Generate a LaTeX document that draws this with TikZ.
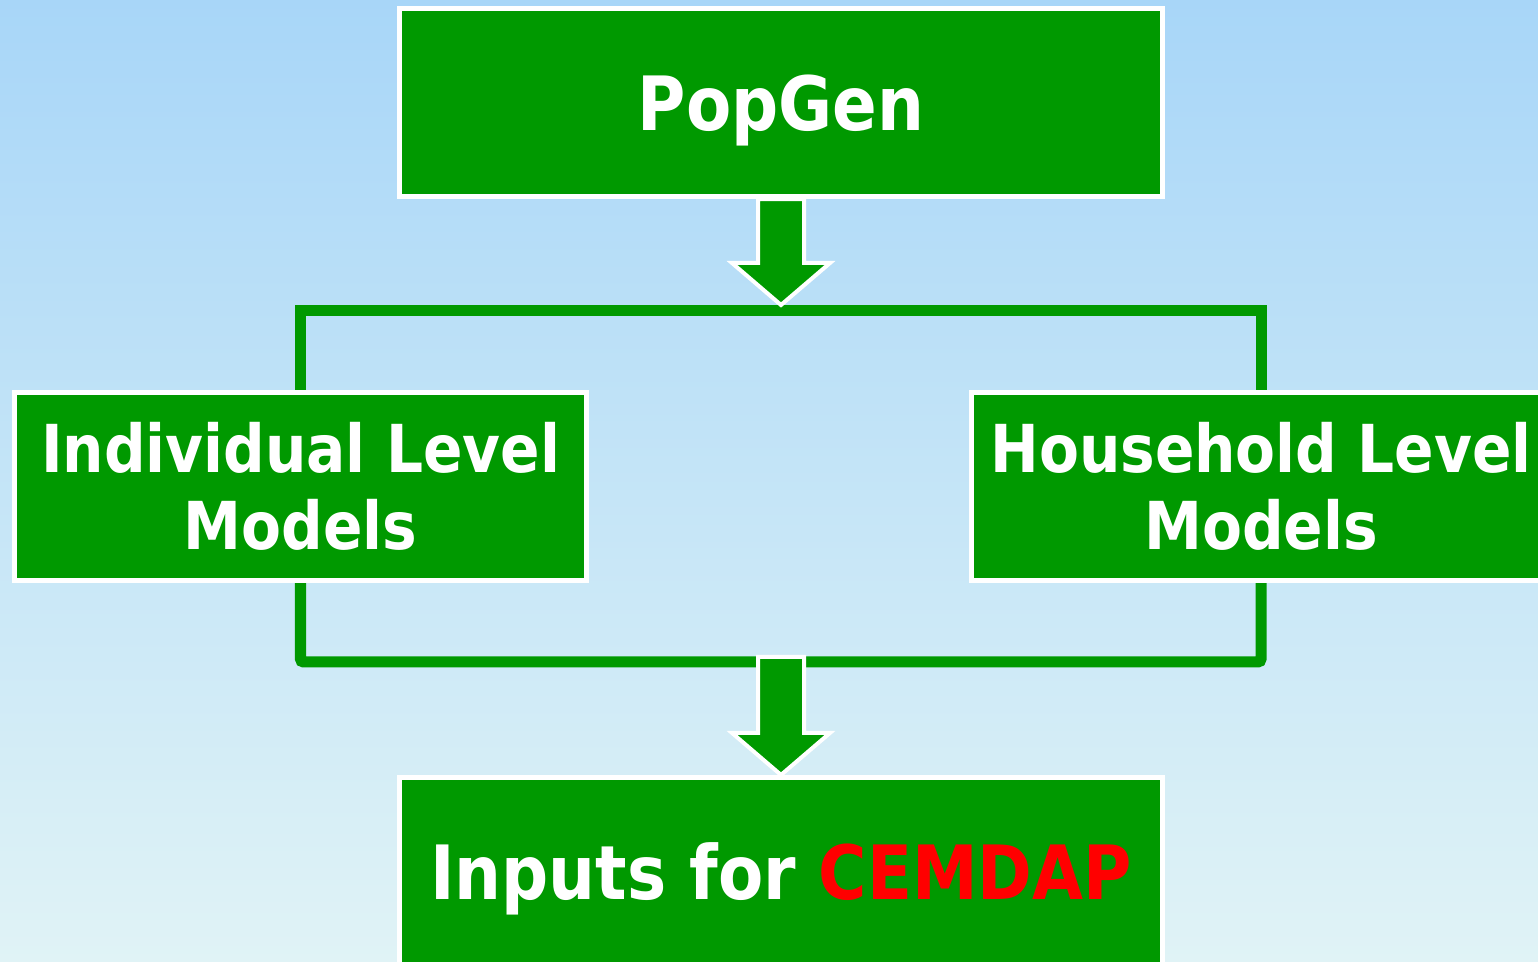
\documentclass[tikz,border=0pt]{standalone}
\usepackage{fontspec}
\newfontfamily\boxfont[FakeStretch=0.88]{DejaVu Sans}
\usetikzlibrary{calc}

\definecolor{boxgreen}{HTML}{009900}
\definecolor{skytop}{HTML}{A8D6F8}
\definecolor{skybottom}{HTML}{E0F3F6}

\tikzset{
  box/.style={rectangle, fill=boxgreen, draw=white, line width=0.05cm,
    inner sep=0, outer sep=0.025cm, minimum height=1.88cm, text=white, align=center},
  bigtext/.style={font=\boxfont\bfseries\fontsize{21.3}{24}\selectfont, text depth=0pt},
  midtext/.style={font=\boxfont\bfseries\fontsize{18.8}{21.9}\selectfont},
  link/.style={draw=boxgreen, line width=0.11cm},
}

% fat block arrow from #1 down to tip #2
\newcommand{\fatarrow}[2]{%
  \filldraw[fill=boxgreen, draw=white, line width=0.04cm, line join=miter]
    ($(#1)+(-23,0)$) -- ($(#2)+(-23,-42)$) -- ($(#2)+(-49,-42)$) -- (#2)
    -- ($(#2)+(49,-42)$) -- ($(#2)+(23,-42)$) -- ($(#1)+(23,0)$) -- cycle;}

\begin{document}
\begin{tikzpicture}[x=0.01cm,y=-0.01cm]

\useasboundingbox (0,0) rectangle (1538,962);
\clip (0,0) rectangle (1538,962);
\fill[top color=skytop, bottom color=skybottom] (0,0) rectangle (1538,962);

\coordinate (topjoin) at (781,311);
\coordinate (botjoin) at (781,662);
\coordinate (tipA) at (781,305);

\node[box, bigtext, minimum width=7.63cm] (popgen) at (781,102.5) {PopGen};
\node[box, midtext, minimum width=5.72cm] (indiv) at (300.5,486.5) {Individual Level\\Models};
\node[box, midtext, minimum width=5.78cm] (house) at (1261,486.5) {Household Level\\Models};
\node[box, bigtext, minimum width=7.63cm] (inputs) at (781,871.5)
  {Inputs for \textcolor{red}{CEMDAP}};

\draw[link] (indiv.north) |- (topjoin) -| (house.north);
\draw[link, rounded corners=0.03cm] (indiv.south) |- (botjoin) -| (house.south);

\fatarrow{popgen.south}{tipA}
\fatarrow{$(botjoin)+(0,-5)$}{inputs.north}

\end{tikzpicture}
\end{document}
